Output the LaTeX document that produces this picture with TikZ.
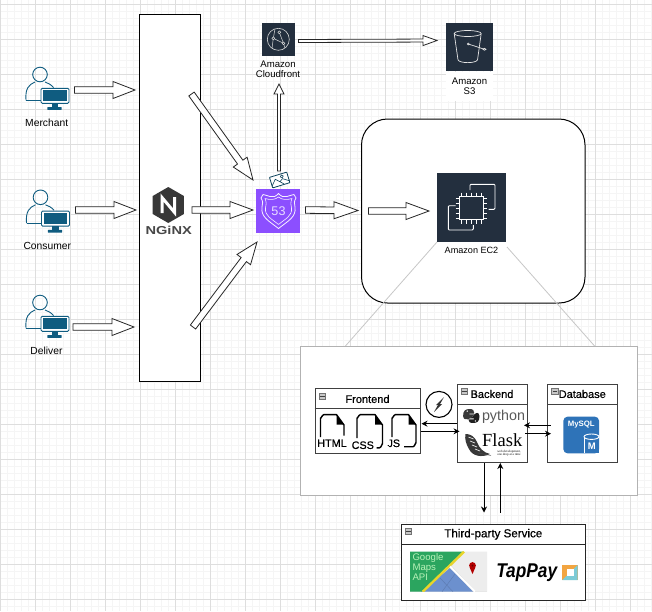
\documentclass[tikz,border=0pt]{standalone}
\usepackage{fontspec}
\setmainfont{Liberation Sans}
\newfontfamily\semibf[FakeBold=0.6]{Liberation Sans}
\newfontfamily\serifbf{Liberation Serif}
\usetikzlibrary{calc,arrows.meta,shapes.geometric}
\definecolor{awsdark}{HTML}{232F3E}
\definecolor{r53}{HTML}{8C4FFF}
\definecolor{teal}{HTML}{0F5C80}
\definecolor{gridmin}{HTML}{F5F5F5}
\definecolor{gridmaj}{HTML}{DEDEDE}
\definecolor{mysql}{HTML}{2E73B8}
\definecolor{gmgreen}{HTML}{2BA55F}
\definecolor{gmblue}{HTML}{6C90CE}
\definecolor{gmyellow}{HTML}{E8D52A}
\definecolor{tporange}{HTML}{F2A541}
\definecolor{tpcyan}{HTML}{7CCBD6}
\tikzset{
 lbl/.style={font=\fontsize{9.6}{11}\selectfont,align=center,inner sep=0pt},
 plbl/.style={font=\fontsize{10.3}{11}\selectfont,inner sep=0pt},
 blk/.style={draw=black!85,fill=white,line width=.8pt,line join=miter},
 conn/.style={draw=black,line width=.9pt,-{Stealth[length=6pt,width=6pt]}},
 tbox/.style={draw=black!75,fill=white,line width=1pt,inner sep=0pt},
 hdr/.style={font=\fontsize{11}{12}\selectfont\semibf,inner sep=0pt},
 filetxt/.style={inner sep=0pt,font=\fontsize{10.8}{12}\selectfont\semibf},
 collapse/.style={draw=black!55,fill=black!22,line width=.5pt,minimum width=6.4pt,minimum height=5.8pt,inner sep=0pt,
   path picture={\draw[black!75,line width=.9pt] ($(path picture bounding box.west)+(1,0)$) -- ($(path picture bounding box.east)+(-1,0)$);}},
 filel/.style={draw=black,line width=1.4pt,line join=round},
}
\newcommand\blockarr[5]{% from, to, shaft half, head half, head length
 \coordinate (hb) at ($(#2)!#5pt!(#1)$);
 \path[blk] ($(#1)!#3pt!90:(#2)$) -- ($(hb)!#3pt!-90:(#1)$) -- ($(hb)!#4pt!-90:(#1)$) -- (#2)
  -- ($(hb)!#4pt!90:(#1)$) -- ($(hb)!#3pt!90:(#1)$) -- ($(#1)!#3pt!-90:(#2)$) -- cycle;
}
\newcommand\personicon[2]{% head centre
 \begin{scope}[shift={(#1,#2)}]
  \draw[teal,line width=.9pt] (0,0) circle (7.3);
  \draw[teal,line width=.9pt] (-14,25.8) .. controls (-15,14) and (-11,10) .. (-5,7.5);
  \draw[teal,line width=.9pt] (5,7.5) .. controls (8,8.5) and (11,10) .. (13.5,13);
  \draw[teal,line width=.9pt] (-14,25.8) -- (1,25.8);
  \draw[teal,line width=.9pt,fill=white,rounded corners=1.2pt] (1,13.8) rectangle (29,28.8);
  \fill[teal] (3,15.5) rectangle (26.7,26.7);
  \fill[teal] (11.7,28.8) rectangle (18.3,33);
  \fill[teal,rounded corners=.5pt] (7.3,32.5) rectangle (21.7,35.3);
 \end{scope}
}
\newcommand\filetop[3]{% x0,x1,y top : left side to y, fold
 \fill (#2-7.5,#3) -- (#2,#3+10) -- (#2-7.5,#3+10) -- cycle;
}
\begin{document}
\begin{tikzpicture}[x=1pt,y=-1pt]
\useasboundingbox (0,0) rectangle (652,611);
\fill[white] (0,0) rectangle (652,611);
% grid
\foreach \i in {0,...,93} {\draw[gridmin,line width=.6pt] (\i*7,0) -- (\i*7,611);}
\foreach \i in {0,...,87} {\draw[gridmin,line width=.6pt] (0,\i*7+4.3) -- (652,\i*7+4.3);}
\foreach \i in {0,...,18} {\draw[gridmaj,line width=.8pt] (\i*35,0) -- (\i*35,611);}
\foreach \i in {0,...,17} {\draw[gridmaj,line width=.8pt] (0,\i*35+4.3) -- (652,\i*35+4.3);}

% main boxes
\node[draw=black,fill=white,line width=1pt,minimum width=61.5pt,minimum height=367pt,inner sep=0pt] (nginxbox) at (169.75,197.5) {};
\node[draw=black,fill=white,line width=1pt,rounded corners=26pt,minimum width=223.5pt,minimum height=184pt,inner sep=0pt] (ec2box) at (473.25,211) {};

% nginx logo
\node[regular polygon,regular polygon sides=6,shape border rotate=30,fill=black!78,minimum size=36pt,inner sep=0pt] (nginxlogo) at (168.3,205) {};
\draw[white,line width=3pt,line join=miter] (162,213) -- (162,197.5) -- (174.6,212.5) -- (174.6,197);
\node[inner sep=0pt,text=black!72,xscale=1.27,font=\fontsize{11.5}{12}\selectfont\bfseries] (nginxtext) at (168.7,230) {NGiNX};

% route53
\node[fill=r53,minimum size=44pt,inner sep=0pt] (r53) at (278.3,210.8) {};
\draw[white!92!r53,line width=.8pt,line join=round]
 (278.5,193.5) .. controls (281,196.5) and (284,197.5) .. (287,196.5) .. controls (290,195.5) and (292,195) .. (294,194.5)
 -- (296,198) .. controls (294,201) and (294,204) .. (295,207) .. controls (296.5,217) and (288,221) .. (278.5,228.5)
 .. controls (269,221) and (260.5,217) .. (262,207) .. controls (263,204) and (263,201) .. (261,198) -- (263,194.5)
 .. controls (265,195) and (267,195.5) .. (270,196.5) .. controls (273,197.5) and (276,196.5) .. (278.5,193.5) -- cycle;
\draw[white!92!r53,line width=.6pt,line join=round]
 (278.5,197) .. controls (275,200) and (270,200) .. (265,198.5) .. controls (266.5,202) and (266.5,205) .. (265.5,208)
 .. controls (264.5,216) and (272,219) .. (278.5,224.5) .. controls (285,219) and (292.5,216) .. (291.5,208)
 .. controls (290.5,205) and (290.5,202) .. (292,198.5) .. controls (287,200) and (282,200) .. (278.5,197) -- cycle;
\node[text=white!80!r53,inner sep=0pt,font=\fontsize{12.6}{13}\selectfont] (r53t) at (278.5,211) {53};

% image icon
\begin{scope}[rotate around={17:(279.7,180)}]
\draw[teal!70!black,line width=.8pt,fill=white,rounded corners=.5pt] (270.7,174.5) rectangle (288.7,185.5);
\draw[teal!70!black,line width=.6pt] (270.7,183.5) -- (275.7,178) -- (282.7,185) (279.7,181.5) -- (282.7,179.5) -- (288.7,183.5);
\draw[teal!70!black,line width=.6pt] (282.7,177.2) circle (1.5);
\end{scope}

% cloudfront
\node[fill=awsdark,minimum size=32.5pt,inner sep=0pt] (cf) at (278.7,39.3) {};
\draw[white!85!black,line width=.6pt] (278.3,39.3) circle (11);
\coordinate (cf1) at (273.3,38.3); \coordinate (cf2) at (279.3,32.3); \coordinate (cf3) at (283.5,43.3);
\draw[white!85!black,line width=.5pt] (cf1) -- (cf3) (cf2) -- (cf3) (cf1) -- (275,29) (cf1) -- (272,48.5) (cf3) -- (285,48);
\draw[white!85!black,line width=.5pt,fill=awsdark] (cf1) circle (1.4) (cf2) circle (1.4) (cf3) circle (1.4);
\node[lbl] (cflbl) at (278,69.5) {Amazon\\[-.6pt]Cloudfront};

% S3
\node[fill=awsdark,minimum size=47.5pt,inner sep=0pt] (s3) at (469.5,47.2) {};
\draw[white!90!black,line width=.7pt,line join=round] (467.7,33.5) ellipse (13.5 and 3);
\draw[white!90!black,line width=.7pt,line join=round] (454.2,33.5) -- (458,60) .. controls (460,63.5) and (475.5,63.5) .. (477.5,60) -- (481.2,33.5);
\draw[white!90!black,line width=.7pt] (468.3,44) -- (484.5,49.3);
\draw[white!90!black,line width=.6pt] (468.3,44) circle (1) (484.5,49.3) ellipse (1.6 and 1);
\node[lbl,fill=white,minimum width=47.5pt,minimum height=29pt] (s3lbl) at (469.5,86) {Amazon\\[-1pt]S3};

% EC2
\node[fill=awsdark,minimum size=68.4pt,inner sep=0pt] (ec2) at (471.5,207.5) {};
\draw[white,line width=.9pt,rounded corners=1pt] (470,190) -- (470,184.3) -- (495,184.3) -- (495,209.3) -- (488.5,209.3);
\draw[white,line width=.9pt,rounded corners=1pt] (473.3,225) -- (473.3,230) -- (448.3,230) -- (448.3,205.7) -- (455.5,205.7);
\draw[white,line width=.9pt] (459.5,196.5) rectangle (483,219.5);
\foreach \d in {0,5,10,15,20} {
 \draw[white,line width=.8pt] (461.2+\d,192.5) -- (461.2+\d,196.5);
 \draw[white,line width=.8pt] (461.2+\d,219.5) -- (461.2+\d,223.5);
 \draw[white,line width=.8pt] (455.5,198+\d) -- (459.5,198+\d);
 \draw[white,line width=.8pt] (483,198+\d) -- (487,198+\d);
}
\node[lbl,font=\fontsize{9.1}{11}\selectfont] (ec2lbl) at (471.5,250.5) {Amazon EC2};

% zoom lines
\coordinate (z1a) at (437,242); \coordinate (z1b) at (345,346.5);
\coordinate (z2a) at (507,247); \coordinate (z2b) at (595,346.5);
\draw[black!22,line width=.8pt] (z1a) -- (z1b);
\draw[black!22,line width=.8pt] (z2a) -- (z2b);

% panel
\node[draw=black!30,fill=white,line width=1pt,minimum width=337.5pt,minimum height=148.5pt,inner sep=0pt] (panel) at (469,421) {};

% persons
\personicon{40}{74.5}
\node[plbl] (merchant) at (46.7,123.3) {Merchant};
\personicon{40.5}{197.3}
\node[plbl] (consumer) at (47.3,246.3) {Consumer};
\personicon{40}{302.5}
\node[plbl] (deliver) at (46.5,351) {Deliver};

% frontend
\node[tbox,minimum width=105pt,minimum height=64.5pt] (fe) at (367.5,421) {};
\draw[black!75,line width=1pt] (fe.west |- 0,408.7) -- (fe.east |- 0,408.7);
\node[collapse] (cfe) at (322.4,396.3) {};
\node[hdr] (fet) at (367.5,399) {Frontend};
% html file
\draw[filel] (320.5,437) -- (320.5,418) to[out=-90,in=180] (324,414.6) -- (336.5,414.6) -- (344,425) -- (344,435.5);
\filetop{320.5}{344}{414.6}
\node[filetxt] (html) at (332,443.2) {HTML};
% css file
\draw[filel] (357,438) -- (357,418) to[out=-90,in=180] (360.5,414.6) -- (375,414.6) -- (382.5,425) -- (382.5,444) to[out=90,in=0] (379.5,447.8) -- (376.5,447.8);
\filetop{357}{382.5}{414.6}
\node[filetxt] (css) at (362.8,445.2) {CSS};
% js file
\draw[filel] (392,437) -- (392,418) to[out=-90,in=180] (395.5,414.6) -- (408.5,414.6) -- (416,425) -- (416,443) to[out=90,in=0] (413,446.7) -- (404,446.7);
\filetop{392}{416}{414.6}
\node[filetxt] (js) at (393.8,443.3) {JS};

% socket io
\node[draw=black,fill=white,line width=1.1pt,circle,minimum size=26pt,inner sep=0pt] (sock) at (439,404.4) {};
\fill[black!80] (444,397) -- (436,405) -- (439.5,405) -- cycle;
\fill[black!80] (434,412) -- (442,404) -- (438.5,404) -- cycle;

% backend
\node[tbox,minimum width=70pt,minimum height=78.7pt] (be) at (492.7,423.35) {};
\draw[black!75,line width=1pt] (be.west |- 0,404.3) -- (be.east |- 0,404.3);
\node[collapse] (cbe) at (464.5,391.5) {};
\node[hdr] (bet) at (492,394) {Backend};

% python
\begin{scope}[shift={(471.3,416)},scale=.82]
\fill[black!78] (-10,0) .. controls (-10,-7) and (-7,-8.5) .. (-2,-8.5) .. controls (2,-8.5) and (3.5,-7) .. (3.5,-4) -- (3.5,-3) -- (-2.5,-3) -- (-2.5,-2) -- (5,-2) .. controls (2,1) and (-2,1.5) .. (-3.5,4) .. controls (-6,5) and (-10,4) .. (-10,0) -- cycle;
\fill[black!88] (10,0) .. controls (10,7) and (7,8.5) .. (2,8.5) .. controls (-2,8.5) and (-3.5,7) .. (-3.5,4) -- (3,4) -- (3,3) -- (-2.5,3) .. controls (0,1) and (4,0) .. (5,-3) .. controls (8,-5) and (10,-3) .. (10,0) -- cycle;
\fill[white] (-5,-6) circle (.9) (5,6) circle (.9);
\end{scope}
\node[inner sep=0pt,text=black!65,font=\fontsize{14.3}{16}\selectfont] (py) at (503.5,416.5) {python};

% flask
\fill[black!78] (465.5,434) .. controls (470,433.5) and (475,437) .. (477,442) .. controls (479,448) and (484,453) .. (490,454) .. controls (482,458) and (472,456) .. (469,449) .. controls (466,444) and (464.5,439) .. (465.5,434) -- cycle;
\foreach \a/\b in {468.5/437,470/441,472/445,475/449} {\draw[white,line width=.6pt] (\a,\b) -- (\a+5,\b+2);}
\draw[black!70,line width=.4pt] (478,453) -- (491,455.5);
\node[inner sep=0pt,font=\fontsize{18.5}{20}\selectfont\serifbf] (flask) at (502.2,440.3) {Flask};
\node[inner sep=0pt,align=center,font=\fontsize{3.2}{3.6}\selectfont\serifbf] (flasksub) at (509,453.3) {web development,\\one drop at a time};

% database
\node[tbox,minimum width=70pt,minimum height=78.7pt] (db) at (582.7,423.35) {};
\draw[black!75,line width=1pt] (db.west |- 0,404.3) -- (db.east |- 0,404.3);
\node[collapse] (cdb) at (554.8,391.5) {};
\node[hdr] (dbt) at (582.3,394) {Database};
\node[fill=mysql,rounded corners=4pt,minimum width=35.6pt,minimum height=36.6pt,inner sep=0pt] (mysql) at (581.2,435) {};
\node[inner sep=0pt,text=white,font=\fontsize{7.8}{8}\selectfont\bfseries] (mysqlt) at (581.3,424.5) {MySQL};
\fill[mysql] (584,437) rectangle (599,453);
\draw[white,line width=.9pt] (584,437) -- (584,453.3);
\draw[white,line width=.9pt,fill=mysql] (591.5,436.7) ellipse (7.5 and 2.7);
\node[inner sep=0pt,text=white,font=\fontsize{9.5}{10}\selectfont\bfseries] (mysqlm) at (591.7,446.7) {M};

% third party
\node[tbox,draw=black!85,minimum width=183.6pt,minimum height=75.7pt] (tp) at (493.5,562.15) {};
\draw[black!85,line width=1pt] (tp.west |- 0,544.3) -- (tp.east |- 0,544.3);
\node[collapse] (ctp) at (408.3,531.3) {};
\node[hdr,font=\fontsize{11.6}{12}\selectfont\semibf] (tpt) at (493.3,534.3) {Third-party Service};
% google maps
\begin{scope}
\clip (410,551.7) rectangle (487,591.7);
\fill[black!13] (410,551.7) rectangle (487,591.7);
\fill[black!7] (452,566) -- (463,551.7) -- (487,551.7) -- (487,591.7) -- (476,591.7) -- cycle;
\fill[gmblue] (450,568) -- (473,591.7) -- (421,591.7) -- cycle;
\fill[gmgreen] (410,551.7) -- (463,551.7) -- (421.7,591.7) -- (410,591.7) -- cycle;
\draw[gmyellow,line width=2.4pt] (464,551.7) -- (422.7,591.7);
\draw[white,line width=1.8pt] (450,566.5) -- (475,591.7);
\draw[gmblue!85!black,line width=.4pt] (440,578) -- (453,591.7) (455,574) -- (442,591.7);
\end{scope}
\fill[red!70!black] (472.5,565.5) circle (3.4);
\fill[red!70!black] (469.6,567.3) -- (475.4,567.3) -- (472.5,574) -- cycle;
\fill[black!60!red] (472.5,565.5) circle (1);
\node[inner sep=0pt,align=left,text=white!75!green!90!gray,font=\fontsize{9.6}{10}\selectfont] (gmaps) at (428,567.5) {Google\\Maps\\API};
% tappay
\node[inner sep=0pt,yscale=1.15,font=\fontsize{17.3}{19}\selectfont\bfseries\itshape] (tappay) at (526.7,572.5) {TapPay};
\fill[tporange] (562.3,565) rectangle (577.7,580);
\fill[tpcyan] (577.7,565) -- (577.7,580) -- (562.3,580) -- (566.5,575.8) -- (573.5,575.8) -- (573.5,569.2) -- cycle;
\fill[white] (566.5,569.2) rectangle (573.5,575.8);

% connectors
\coordinate (a1s) at (74.5,90); \coordinate (a1e) at (135,90);
\blockarr{a1s}{a1e}{3.3}{8.5}{22}
\coordinate (a2s) at (75.5,210); \coordinate (a2e) at (136,210);
\blockarr{a2s}{a2e}{3.3}{8.5}{22}
\coordinate (a3s) at (73,327); \coordinate (a3e) at (134,327);
\blockarr{a3s}{a3e}{3.3}{8.5}{22}
\coordinate (a4s) at (191.5,94); \coordinate (a4e) at (253,180);
\blockarr{a4s}{a4e}{3.3}{8.5}{22}
\coordinate (a5s) at (192,210); \coordinate (a5e) at (253,210);
\blockarr{a5s}{a5e}{3.3}{8.5}{23}
\coordinate (a6s) at (193,327); \coordinate (a6e) at (257,242);
\blockarr{a6s}{a6e}{3.3}{8.5}{22}
\coordinate (a7s) at (279,171); \coordinate (a7e) at (279,84);
\blockarr{a7s}{a7e}{1.5}{5}{10}
\coordinate (a8s) at (298.5,41); \coordinate (a8e) at (437,40.5);
\blockarr{a8s}{a8e}{1.5}{5}{14}
\coordinate (a9s) at (305.5,210); \coordinate (a9e) at (358,210.5);
\blockarr{a9s}{a9e}{3.3}{8.5}{24}
\coordinate (a10s) at (368.5,211); \coordinate (a10e) at (429,211);
\blockarr{a10s}{a10e}{3.3}{8.5}{23}

\coordinate (f1) at (457.3,423.7); \coordinate (f2) at (421.5,423.7);
\draw[conn] (f1) -- (f2);
\coordinate (f3) at (421,431.3); \coordinate (f4) at (459.5,431.3);
\draw[conn] (f3) -- (f4);
\coordinate (d1) at (550.7,425.3); \coordinate (d2) at (524,425.3);
\draw[conn] (d1) -- (d2);
\coordinate (d3) at (525.3,433.7); \coordinate (d4) at (551,433.7);
\draw[conn] (d3) -- (d4);
\coordinate (t1) at (484,463); \coordinate (t2) at (484,512.5);
\draw[conn] (t1) -- (t2);
\coordinate (t3) at (500.3,512.5); \coordinate (t4) at (500.3,463);
\draw[conn] (t3) -- (t4);
\end{tikzpicture}
\end{document}
